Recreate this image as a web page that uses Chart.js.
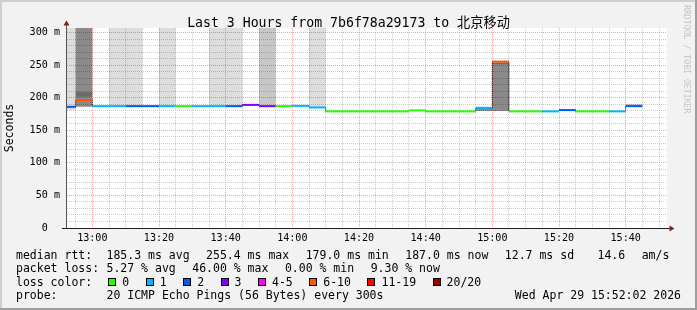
<!DOCTYPE html>
<html>
<head>
<meta charset="utf-8">
<script src="https://cdn.jsdelivr.net/npm/chart.js@4.4.1/dist/chart.umd.min.js"></script>
<style>
  html, body { margin: 0; padding: 0; background: #f2f2f2; }
  canvas { display: block; }
</style>
</head>
<body>
<canvas id="chart" width="697" height="310"></canvas>
<script>
// 5 minute slots (start time), median rtt in ms, lost pings out of 20
const slotStarts = ['12:50','12:55','13:00','13:05','13:10','13:15','13:20','13:25','13:30','13:35',
  '13:40','13:45','13:50','13:55','14:00','14:05','14:10','14:15','14:20','14:25','14:30','14:35',
  '14:40','14:45','14:50','14:55','15:00','15:05','15:10','15:15','15:20','15:25','15:30','15:35','15:40'];
const medianRtt = [186,196.5,187,187,187,187,187,187,187,187,187,189,187,187,187.5,185,179,179,179,179,179,180.5,
  179,179,179,184.5,255.4,179,179,179,181,179,179,179,187];
const lostPings = [2,8,1,1,2,2,1,0,1,1,2,3,3,0,1,1,0,0,0,0,0,0,0,0,0,1,9,0,0,1,2,0,0,1,2];

// smoke (spread of the 20 pings), null = no visible smoke
const smokeLow  = [181,186,null,186,186,null,186,null,null,186,186,null,186,null,null,184,
  null,null,null,null,null,null,null,null,null,179.5,179.5,null,null,null,null,null,null,null,187.5];
const smokeHigh = [307,307,null,307,307,null,307,null,null,307,307,null,307,null,null,307,
  null,null,null,null,null,null,null,null,null,184.5,254,null,null,null,null,null,null,null,190.5];
const smokeShade = ['light','dark',null,'light','light',null,'light',null,null,'light','light',null,'medium',null,null,'light',
  null,null,null,null,null,null,null,null,null,'dark','dark',null,null,null,null,null,null,null,'medium'];
const bandLow  = {'12:55': 201.5, '15:00': 251.5};
const bandHigh = {'12:55': 208.5, '15:00': 254};

const lossLabels = ['0','1','2','3','4-5','6-10','11-19','20/20'];
const lossUpper  = [0, 1, 2, 3, 5, 10, 19, 20];
const lossColors = ['#26ff00','#00b8ff','#0059ff','#7e00ff','#ff00ff','#ff5500','#ff0000','#a10000'];

const xTickLabels = ['13:00','13:20','13:40','14:00','14:20','14:40','15:00','15:20','15:40'];
const yTickLabels = [0, 50, 100, 150, 200, 250, 300];

const statRows = [
  ['median rtt:', ['185.3 ms avg','255.4 ms max','179.0 ms min','187.0 ms now','12.7 ms sd',' 14.6','am/s']],
  ['packet loss:', ['5.27 % avg','46.00 % max','0.00 % min','9.30 % now']]
];
const probeText = '20 ICMP Echo Pings (56 Bytes) every 300s';
const stampText = 'Wed Apr 29 15:52:02 2026';
const titleText = 'Last 3 Hours from 7b6f78a29173 to 北京移动';

const FONT = "'DejaVu Sans Mono', 'Noto Sans CJK SC', monospace";
const GRID = 'rgba(143,143,143,0.45)';
const MGRID = 'rgba(222,79,79,0.5)';
const shadeColors = { light: 'rgba(0,0,0,0.135)', medium: 'rgba(0,0,0,0.22)', dark: 'rgba(0,0,0,0.46)' };

const toMin = s => { const [h, m] = s.split(':').map(Number); return h * 60 + m - 720; };
const slotMin = 5;
const xStart = 52.4, xEnd = 232.4;
const slotX = slotStarts.map(toMin);
const xMajor = xTickLabels.map(toMin);
const lossColor = n => lossColors[lossUpper.findIndex(u => n <= u)];

const medianSegs = [];
slotX.forEach((x0, i) => {
  medianSegs.push({x: x0, y: medianRtt[i]}, {x: x0 + slotMin, y: medianRtt[i]}, {x: x0 + slotMin, y: null});
});
const stepLine = slotX.map((x0, i) => ({x: x0, y: medianRtt[i]}));
stepLine.push({x: slotX[slotX.length - 1] + slotMin, y: medianRtt[medianRtt.length - 1]});

const smokeData = [], smokeCols = [];
slotX.forEach((x0, i) => {
  if (smokeLow[i] == null) return;
  smokeData.push({x: x0 + slotMin / 2, y: [smokeLow[i], smokeHigh[i]]});
  smokeCols.push(shadeColors[smokeShade[i]]);
});
const bandData = Object.keys(bandLow).map(k => ({x: toMin(k) + slotMin / 2, y: [bandLow[k], bandHigh[k]]}));

const rrdFrame = {
  id: 'rrdFrame',
  beforeDraw(chart) {
    const {ctx, width, height, chartArea: a} = chart;
    ctx.save();
    ctx.fillStyle = '#f2f2f2'; ctx.fillRect(0, 0, width, height);
    ctx.fillStyle = '#cfcfcf'; ctx.fillRect(0, 0, width, 2); ctx.fillRect(0, 0, 2, height);
    ctx.fillStyle = '#9e9e9e'; ctx.fillRect(0, height - 2, width, 2); ctx.fillRect(width - 2, 0, 2, height);
    ctx.fillStyle = '#ffffff'; ctx.fillRect(a.left, a.top, a.right - a.left, a.bottom - a.top);
    ctx.restore();
  },
  afterDraw(chart) {
    const {ctx, chartArea: a} = chart;
    ctx.save();
    // axes
    ctx.lineWidth = 1;
    ctx.strokeStyle = '#555';
    ctx.beginPath(); ctx.moveTo(a.left - 0.5, a.bottom + 1); ctx.lineTo(a.left - 0.5, a.top - 3); ctx.stroke();
    ctx.strokeStyle = '#1f1f1f';
    ctx.beginPath(); ctx.moveTo(a.left - 5, a.bottom + 0.5); ctx.lineTo(a.right + 3, a.bottom + 0.5); ctx.stroke();
    ctx.fillStyle = '#7f1f1f';
    ctx.beginPath(); ctx.moveTo(a.left - 3.5, a.top - 2.5); ctx.lineTo(a.left + 2.5, a.top - 2.5); ctx.lineTo(a.left - 0.5, a.top - 7.5); ctx.fill();
    ctx.beginPath(); ctx.moveTo(a.right + 2.5, a.bottom - 2.5); ctx.lineTo(a.right + 2.5, a.bottom + 3.5); ctx.lineTo(a.right + 7.5, a.bottom + 0.5); ctx.fill();

    // title
    ctx.fillStyle = '#000';
    ctx.font = `13.2px ${FONT}`;
    ctx.textAlign = 'center'; ctx.textBaseline = 'alphabetic';
    ctx.fillText(titleText, 348.5, 26.5);

    // watermark
    ctx.save();
    ctx.translate(684.3, 5); ctx.rotate(Math.PI / 2);
    ctx.font = `8.2px ${FONT}`; ctx.fillStyle = '#c4c4c4'; ctx.textAlign = 'left';
    ctx.fillText('RRDTOOL / TOBI OETIKER', 0, 0);
    ctx.restore();

    // legend rows
    ctx.font = `11.5px ${FONT}`;
    ctx.textAlign = 'left'; ctx.fillStyle = '#000';
    const base = [258.5, 272, 285.5, 299];
    statRows.forEach(([label, items], r) => {
      ctx.fillText(label, 16, base[r]);
      let x = 106.5;
      items.forEach(t => { ctx.fillText(t, x, base[r]); x += ctx.measureText(t).width + 16.5; });
    });
    ctx.fillText('loss color:', 16, base[2]);
    let x = 108.3;
    lossLabels.forEach((lab, i) => {
      const bx = Math.round(x);
      ctx.fillStyle = lossColors[i]; ctx.fillRect(bx, 278, 8, 8);
      ctx.strokeStyle = '#000'; ctx.strokeRect(bx + 0.5, 278.5, 7, 7);
      ctx.fillStyle = '#000';
      ctx.fillText(lab, x + 14, base[2]);
      x += 14 + ctx.measureText(lab).width + 16.5;
    });
    ctx.fillText('probe:', 16, base[3]);
    ctx.fillText(probeText, 106.5, base[3]);
    ctx.textAlign = 'right';
    ctx.fillText(stampText, 681, base[3]);
    ctx.restore();
  }
};

const pad2 = n => String(n).padStart(2, '0');
const axisFont = { family: FONT, size: 10.1 };

new Chart(document.getElementById('chart'), {
  type: 'line',
  data: {
    datasets: [
      {
        type: 'line', data: medianSegs, order: 0, borderWidth: 2, pointRadius: 0, spanGaps: false,
        borderColor: '#000', borderCapStyle: 'butt', clip: 0,
        segment: { borderColor: c => lossColor(lostPings[Math.floor(c.p0DataIndex / 3)]) }
      },
      {
        type: 'line', data: stepLine, order: 1, borderWidth: 1, pointRadius: 0, stepped: true,
        borderColor: '#000', borderDash: [1, 1], clip: 0
      },
      {
        type: 'bar', data: bandData, order: 2, backgroundColor: 'rgba(0,0,0,0.22)', borderWidth: 0,
        grouped: false, barPercentage: 1, categoryPercentage: 1, inflateAmount: 0, clip: 0
      },
      {
        type: 'bar', data: smokeData, order: 3, backgroundColor: smokeCols, borderWidth: 0,
        grouped: false, barPercentage: 1, categoryPercentage: 1, inflateAmount: 0, clip: 0
      }
    ]
  },
  options: {
    responsive: false,
    animation: false,
    events: [],
    layout: { padding: { left: 0, right: 30, top: 28, bottom: 0 } },
    plugins: { legend: { display: false }, tooltip: { enabled: false } },
    scales: {
      x: {
        type: 'linear', min: xStart, max: xEnd, offset: false,
        afterBuildTicks: s => {
          const t = [];
          for (let v = Math.ceil(xStart / slotMin) * slotMin; v <= xEnd; v += slotMin) t.push({value: v});
          s.ticks = t;
        },
        afterFit: s => { s.height = 82; },
        grid: { offset: false, drawTicks: false, lineWidth: 1, color: c => (c.tick && xMajor.includes(c.tick.value)) ? MGRID : GRID },
        border: { display: false, dash: [1, 1] },
        ticks: {
          autoSkip: false, maxRotation: 0, padding: 4, color: '#000', font: axisFont,
          callback: v => xMajor.includes(v) ? pad2(Math.floor((v + 720) / 60)) + ':' + pad2((v + 720) % 60) : ''
        }
      },
      y: {
        type: 'linear', min: 0, max: 307,
        afterBuildTicks: s => {
          const t = [];
          for (let v = 0; v <= 300; v += 10) t.push({value: v});
          s.ticks = t;
        },
        afterFit: s => { s.width = 67; },
        grid: { drawTicks: false, lineWidth: 1, color: c => (c.tick && yTickLabels.includes(c.tick.value)) ? MGRID : GRID },
        border: { display: false, dash: [1, 1] },
        title: { display: true, text: 'Seconds', color: '#000', font: { family: FONT, size: 11.5 }, padding: { top: 3, bottom: 0 } },
        ticks: {
          autoSkip: false, padding: 7, color: '#000', font: axisFont,
          callback: v => yTickLabels.includes(v) ? (v === 0 ? '0  ' : v + ' m') : ''
        }
      }
    }
  },
  plugins: [rrdFrame]
});
</script>
</body>
</html>
